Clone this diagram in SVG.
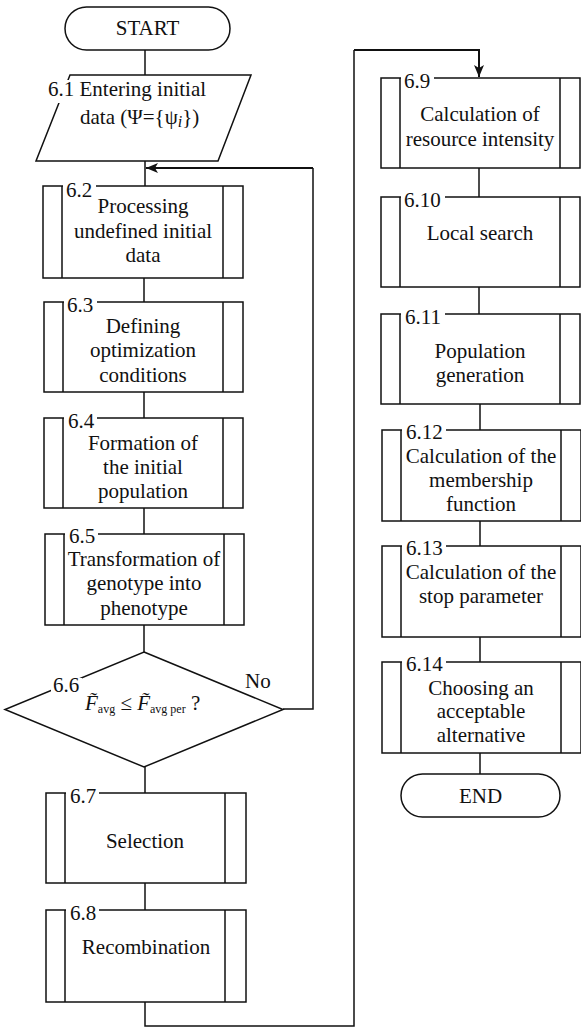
<svg xmlns="http://www.w3.org/2000/svg" width="581" height="1027" viewBox="0 0 581 1027">
<style>
text{font-family:'Liberation Serif','Times New Roman',serif;font-size:21px;fill:#111}
.c{text-anchor:middle}
.s{fill:#fff;stroke:#111;stroke-width:1.5}
.ln{fill:none;stroke:#111;stroke-width:1.5}
.ar{fill:none;stroke:#111;stroke-width:2}
.gap{fill:#fff;stroke:none}
</style>
<defs>
<marker id="ah" viewBox="0 0 12 10" refX="12" refY="5" markerWidth="12" markerHeight="10" markerUnits="userSpaceOnUse" orient="auto">
<path d="M0,0 L12,5 L0,10 L3,5 z" fill="#111"/>
</marker>
</defs>
<rect width="581" height="1027" fill="#fff"/>

<g id="connectors">
<path class="ln" d="M145,50 V75"/>
<path class="ln" d="M145,161 V186"/>
<path class="ln" d="M144,278 V302"/>
<path class="ln" d="M144,392 V418"/>
<path class="ln" d="M144,508 V534"/>
<path class="ln" d="M144,625 V652"/>
<path class="ln" d="M145,767 V793"/>
<path class="ln" d="M145,883 V910"/>
<path class="ln" d="M283,709 H313 V168"/>
<path class="ar" d="M313,168 H146" marker-end="url(#ah)"/>
<path class="ln" d="M145,1002 V1026 H354 V50"/>
<path class="ar" d="M354,50 H479 V77" marker-end="url(#ah)"/>
<path class="ln" d="M479,168 V197"/>
<path class="ln" d="M479,287 V314"/>
<path class="ln" d="M480,404 V430"/>
<path class="ln" d="M480,521 V546"/>
<path class="ln" d="M480,637 V662"/>
<path class="ln" d="M480,753 V774"/>
</g>

<g id="start">
<rect class="s" x="65" y="7" width="165" height="43" rx="21.5"/>
<text class="c" x="147.5" y="35">START</text>
</g>

<g id="n6_1">
<polygon class="s" points="70,75 251,75 218,161 36,161"/>
<rect class="gap" x="46" y="80" width="164" height="23"/>
<text x="48" y="96">6.1 Entering initial</text>
<text x="80" y="124">data (Ψ={ψ<tspan font-style="italic" font-size="16" dy="3">i</tspan><tspan dy="-3">})</tspan></text>
</g>

<g id="n6_2">
<rect class="s" x="43" y="186" width="200" height="92"/>
<path class="ln" d="M62,186 V278 M223,186 V278"/>
<rect class="gap" x="63" y="183" width="33" height="5"/>
<text x="66" y="197">6.2</text>
<text class="c" x="143" y="213">Processing</text>
<text class="c" x="143" y="238">undefined initial</text>
<text class="c" x="143" y="262">data</text>
</g>

<g id="n6_3">
<rect class="s" x="44" y="302" width="199" height="90"/>
<path class="ln" d="M63,302 V392 M223,302 V392"/>
<rect class="gap" x="64" y="299" width="33" height="5"/>
<text x="67" y="312">6.3</text>
<text class="c" x="143" y="333">Defining</text>
<text class="c" x="143" y="357">optimization</text>
<text class="c" x="143" y="382">conditions</text>
</g>

<g id="n6_4">
<rect class="s" x="44" y="418" width="199" height="90"/>
<path class="ln" d="M63,418 V508 M223,418 V508"/>
<rect class="gap" x="64" y="415" width="33" height="5"/>
<text x="68" y="428">6.4</text>
<text class="c" x="143" y="450">Formation of</text>
<text class="c" x="143" y="474">the initial</text>
<text class="c" x="143" y="498">population</text>
</g>

<g id="n6_5">
<rect class="s" x="45" y="534" width="199" height="91"/>
<path class="ln" d="M64,534 V625 M224,534 V625"/>
<rect class="gap" x="65" y="531" width="33" height="5"/>
<text x="69" y="543">6.5</text>
<text class="c" x="144" y="566">Transformation of</text>
<text class="c" x="144" y="590">genotype into</text>
<text class="c" x="144" y="615">phenotype</text>
</g>

<g id="n6_6">
<polygon class="s" points="144,652 283,709.5 144,767 5,709.5"/>
<rect class="gap" x="51" y="678" width="31" height="16"/>
<text x="53" y="692">6.6</text>
<text x="245" y="688">No</text>
<text x="85" y="710" font-size="17"><tspan font-style="italic">F&#771;</tspan><tspan font-size="12" dy="3">avg</tspan><tspan dy="-3"> ≤ </tspan><tspan font-style="italic">F&#771;</tspan><tspan font-size="12" dy="3">avg per</tspan><tspan dy="-3"> ?</tspan></text>
</g>

<g id="n6_7">
<rect class="s" x="46" y="793" width="200" height="90"/>
<path class="ln" d="M65,793 V883 M225,793 V883"/>
<rect class="gap" x="66" y="790" width="33" height="5"/>
<text x="70" y="803">6.7</text>
<text class="c" x="145" y="848">Selection</text>
</g>

<g id="n6_8">
<rect class="s" x="46" y="910" width="200" height="92"/>
<path class="ln" d="M65,910 V1002 M225,910 V1002"/>
<rect class="gap" x="66" y="907" width="33" height="5"/>
<text x="70" y="920">6.8</text>
<text class="c" x="146" y="954">Recombination</text>
</g>

<g id="n6_9">
<rect class="s" x="381" y="78" width="199" height="90"/>
<path class="ln" d="M400,78 V168 M560,78 V168"/>
<rect class="gap" x="401" y="75" width="33" height="5"/>
<text x="404" y="88">6.9</text>
<text class="c" x="480" y="121">Calculation of</text>
<text class="c" x="480" y="146">resource intensity</text>
</g>

<g id="n6_10">
<rect class="s" x="381" y="197" width="199" height="90"/>
<path class="ln" d="M400,197 V287 M560,197 V287"/>
<rect class="gap" x="401" y="194" width="44" height="5"/>
<text x="404" y="207">6.10</text>
<text class="c" x="480" y="240">Local search</text>
</g>

<g id="n6_11">
<rect class="s" x="381" y="314" width="199" height="90"/>
<path class="ln" d="M400,314 V404 M560,314 V404"/>
<rect class="gap" x="401" y="311" width="44" height="5"/>
<text x="405" y="324">6.11</text>
<text class="c" x="480" y="358">Population</text>
<text class="c" x="480" y="382">generation</text>
</g>

<g id="n6_12">
<rect class="s" x="382" y="430" width="199" height="91"/>
<path class="ln" d="M401,430 V521 M561,430 V521"/>
<rect class="gap" x="402" y="427" width="44" height="5"/>
<text x="406" y="439">6.12</text>
<text class="c" x="481" y="463">Calculation of the</text>
<text class="c" x="481" y="487">membership</text>
<text class="c" x="481" y="511">function</text>
</g>

<g id="n6_13">
<rect class="s" x="382" y="546" width="199" height="91"/>
<path class="ln" d="M401,546 V637 M561,546 V637"/>
<rect class="gap" x="402" y="543" width="44" height="5"/>
<text x="406" y="555">6.13</text>
<text class="c" x="481" y="579">Calculation of the</text>
<text class="c" x="481" y="603">stop parameter</text>
</g>

<g id="n6_14">
<rect class="s" x="382" y="662" width="199" height="91"/>
<path class="ln" d="M401,662 V753 M561,662 V753"/>
<rect class="gap" x="402" y="659" width="44" height="5"/>
<text x="406" y="671">6.14</text>
<text class="c" x="481" y="695">Choosing an</text>
<text class="c" x="481" y="718">acceptable</text>
<text class="c" x="481" y="742">alternative</text>
</g>

<g id="end">
<rect class="s" x="401" y="774" width="159" height="43" rx="21.5"/>
<text class="c" x="480.5" y="803">END</text>
</g>
</svg>
